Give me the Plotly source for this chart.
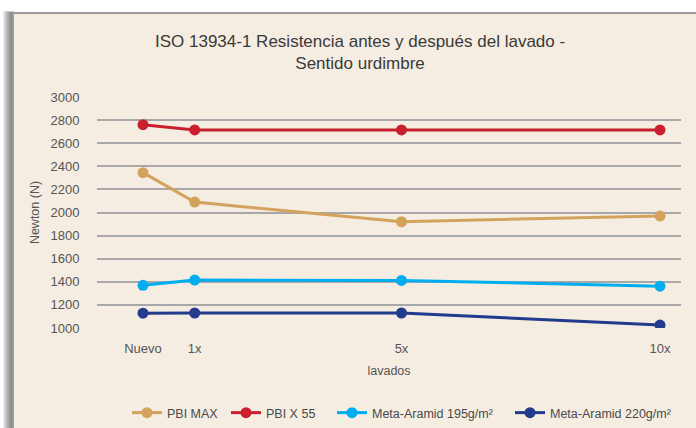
import plotly.graph_objects as go

categories = ["Nuevo", "1x", "5x", "10x"]
x_positions = [0, 1, 5, 10]
series_names = ["PBI MAX", "PBI X 55", "Meta-Aramid 195g/m²", "Meta-Aramid 220g/m²"]
pbi_max = [2345, 2090, 1920, 1970]
pbi_x55 = [2760, 2715, 2715, 2715]
meta_195 = [1370, 1415, 1412, 1362]
meta_220 = [1128, 1130, 1130, 1025]
y_ticks = [1000, 1200, 1400, 1600, 1800, 2000, 2200, 2400, 2600, 2800, 3000]
colors = ["#d3a25c", "#c8202d", "#00aeef", "#233b8c"]

W, H = 696, 428
L, R, T, B = 97, 681, 97, 328

def px(x):
    return (x - L) / (R - L)

def py(y):
    return (B - y) / (B - T)

legend_starts = [132, 231, 337, 515]
legend_ids = ["legend", "legend2", "legend3", "legend4"]

fig = go.Figure()
for name, vals, col, lid in zip(series_names, [pbi_max, pbi_x55, meta_195, meta_220], colors, legend_ids):
    fig.add_trace(go.Scatter(
        x=x_positions, y=vals, name=name, mode="lines+markers", legend=lid,
        line=dict(color=col, width=3), marker=dict(color=col, size=11),
    ))

shapes = []
# shadow gradient on the left
for i in range(11):
    shapes.append(dict(type="rect", xref="paper", yref="paper",
                       x0=px(3 + i), x1=px(14), y0=py(440), y1=py(11 + i * 0.2),
                       fillcolor="rgba(50,50,50,0.09)", line=dict(width=0), layer="below"))
# panel
shapes.append(dict(type="rect", xref="paper", yref="paper",
                   x0=px(13), x1=px(710), y0=py(440), y1=py(13),
                   fillcolor="#f5ede1", line=dict(color="#9a9a9a", width=2), layer="below"))

legend_cfg = {}
for lid, xs in zip(legend_ids, legend_starts):
    legend_cfg[lid] = dict(orientation="h", x=px(xs - 5), xanchor="left", y=py(413), yanchor="middle",
                           font=dict(size=12.5, color="#4a4a4a"), bgcolor="rgba(0,0,0,0)",
                           itemwidth=30)

fig.update_layout(
    width=W, height=H,
    margin=dict(l=L, r=W - R, t=T, b=H - B, pad=0, autoexpand=False),
    paper_bgcolor="white", plot_bgcolor="rgba(0,0,0,0)",
    font=dict(family="Liberation Sans, Arial, sans-serif", color="#4a4a4a", size=12),
    shapes=shapes,
    showlegend=True,
    annotations=[
        dict(text="ISO 13934-1 Resistencia antes y después del lavado -<br>Sentido urdimbre",
             xref="paper", yref="paper", x=px(360), y=py(52), xanchor="center", yanchor="middle",
             showarrow=False, font=dict(size=17, color="#3a3a3a")),
    ],
    xaxis=dict(
        range=[(L - 143) / 51.7, (R - 143) / 51.7],
        tickmode="array", tickvals=x_positions, ticktext=categories,
        showgrid=False, zeroline=False, showline=False, automargin=False,
        ticks="outside", ticklen=8, tickcolor="rgba(0,0,0,0)",
        tickfont=dict(size=13, color="#555555"),
        title=dict(text="lavados", font=dict(size=12.5, color="#555555"), standoff=11),
    ),
    yaxis=dict(
        range=[1000, 3000], tickvals=y_ticks, automargin=False,
        showgrid=True, gridcolor="#a8a8a8", gridwidth=1.5, zeroline=False, showline=False,
        ticks="outside", ticklen=14, tickcolor="rgba(0,0,0,0)",
        tickfont=dict(size=13, color="#555555"),
        title=dict(text="Newton (N)", font=dict(size=12.5, color="#555555"), standoff=8),
    ),
    **legend_cfg,
)

fig.write_html("out.html", config={"displayModeBar": False},
               post_script="document.body.style.margin='0';document.body.style.overflow='hidden';")
